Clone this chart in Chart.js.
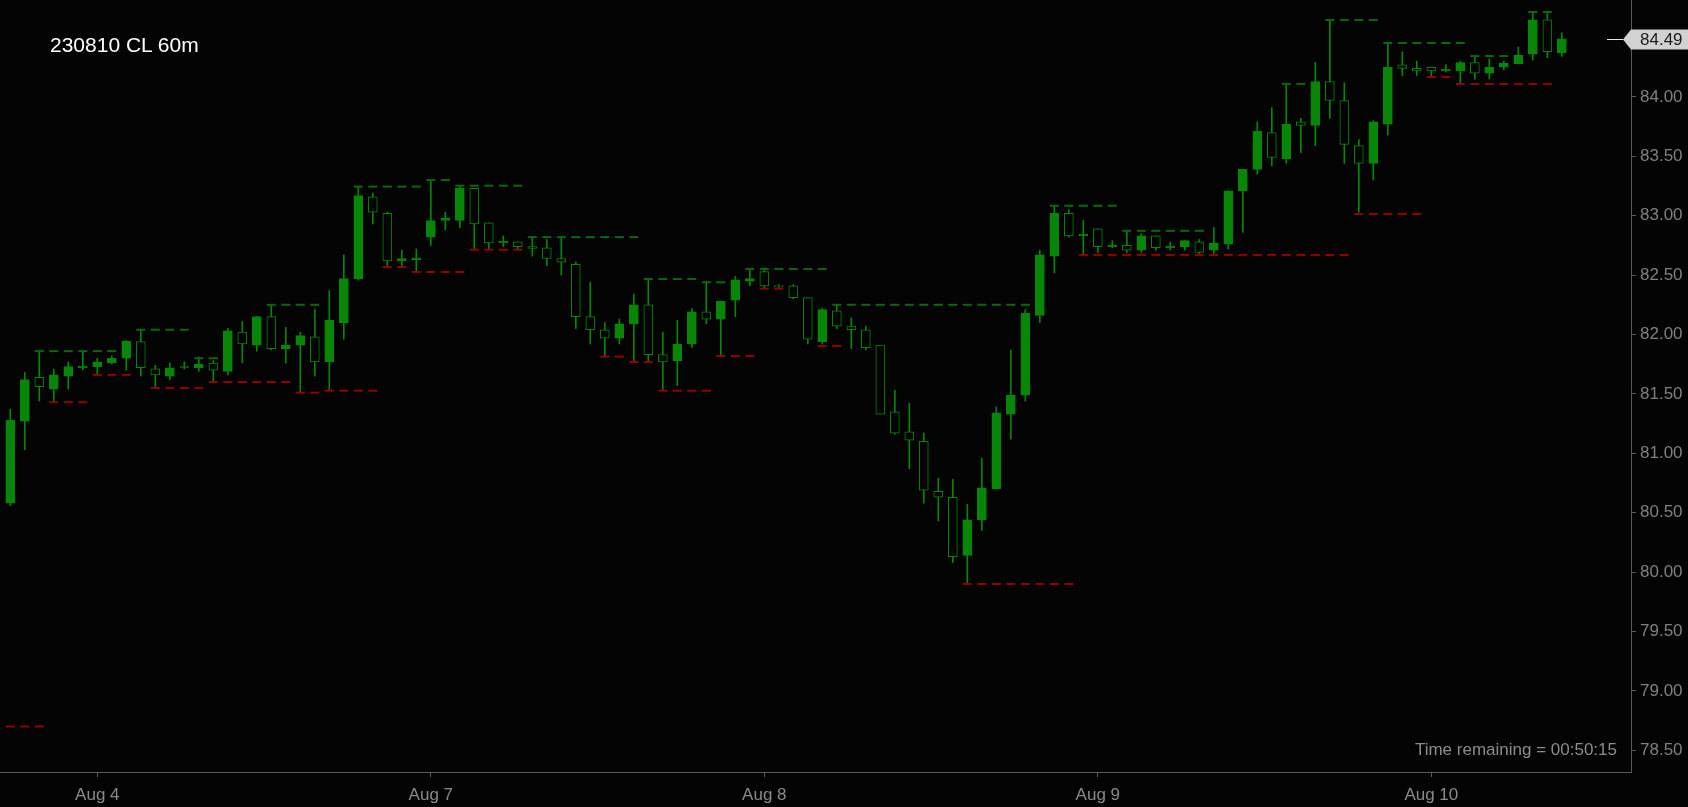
<!DOCTYPE html>
<html>
<head>
<meta charset="utf-8">
<title>230810 CL 60m</title>
<script src="https://cdn.jsdelivr.net/npm/chart.js@4.4.1/dist/chart.umd.min.js"></script>
<style>
  html, body { margin: 0; padding: 0; background: #040404; }
  #wrap { position: relative; width: 1688px; height: 807px; }
  canvas { display: block; }
  .title { position: absolute; left: 50px; top: 34px; color: #ffffff; font: 21px/21px Arial, "Liberation Sans", sans-serif; }
  .remain { position: absolute; right: 71px; top: 741px; color: #8c8c8c; font: 17px/17px Arial, "Liberation Sans", sans-serif; }
</style>
</head>
<body>
<div id="wrap">
  <canvas id="candleChart" width="1688" height="807"></canvas>
  <div class="title">230810 CL 60m</div>
  <div class="remain">Time remaining = 00:50:15</div>
</div>
<script>
// Hourly bars, index 0 = first bar on the chart
const opens = [
  80.58, 81.27, 81.64, 81.54, 81.65, 81.72, 81.73, 81.76, 81.80, 81.94, 81.71, 81.65,
  81.722, 81.72, 81.76, 81.69, 82.02, 81.91, 82.15, 81.88, 81.91, 81.98, 81.77, 82.10,
  82.47, 83.16, 83.02, 82.62, 82.63, 82.82, 82.96, 82.96, 83.23, 82.94, 82.77, 82.78,
  82.74, 82.73, 82.64, 82.59, 82.15, 82.04, 81.97, 82.09, 82.25, 81.83, 81.78, 81.92,
  82.19, 82.13, 82.29, 82.45, 82.53, 82.41, 82.41, 82.31, 81.94, 82.20, 82.07, 82.04,
  81.91, 81.35, 81.18, 81.10, 80.68, 80.63, 80.14, 80.44, 80.70, 81.33, 81.49, 82.16,
  82.66, 83.02, 82.83, 82.89, 82.74, 82.75, 82.71, 82.83, 82.73, 82.74, 82.78, 82.71,
  82.76, 83.21, 83.39, 83.70, 83.48, 83.79, 83.76, 84.13, 83.97, 83.59, 83.44, 83.77,
  84.27, 84.24, 84.25, 84.22, 84.22, 84.29, 84.20, 84.25, 84.28, 84.36, 84.65, 84.37
];
const highs = [
  81.37, 81.68, 81.86, 81.71, 81.77, 81.86, 81.80, 81.82, 81.95, 82.04, 81.74, 81.76,
  81.77, 81.81, 81.78, 82.05, 82.11, 82.15, 82.25, 82.06, 82.02, 82.21, 82.37, 82.67,
  83.24, 83.19, 83.03, 82.71, 82.72, 83.30, 83.03, 83.25, 83.23, 82.94, 82.83, 82.78,
  82.82, 82.80, 82.82, 82.61, 82.44, 82.10, 82.13, 82.34, 82.47, 82.02, 82.12, 82.22,
  82.44, 82.28, 82.49, 82.54, 82.55, 82.42, 82.42, 82.31, 82.22, 82.25, 82.14, 82.07,
  81.91, 81.53, 81.42, 81.17, 80.79, 80.78, 80.57, 80.96, 81.39, 81.87, 82.21, 82.71,
  83.08, 83.05, 82.96, 82.89, 82.79, 82.87, 82.85, 82.83, 82.78, 82.79, 82.80, 82.90,
  83.21, 83.39, 83.79, 83.91, 84.11, 83.82, 84.29, 84.65, 84.12, 83.64, 83.80, 84.45,
  84.38, 84.30, 84.25, 84.27, 84.30, 84.34, 84.32, 84.30, 84.42, 84.72, 84.72, 84.54
];
const lows = [
  80.56, 81.03, 81.44, 81.43, 81.54, 81.70, 81.67, 81.75, 81.70, 81.65, 81.55, 81.62,
  81.71, 81.69, 81.61, 81.66, 81.76, 81.86, 81.87, 81.76, 81.51, 81.65, 81.53, 81.96,
  82.46, 82.93, 82.57, 82.58, 82.53, 82.75, 82.88, 82.90, 82.72, 82.72, 82.74, 82.72,
  82.66, 82.58, 82.50, 82.05, 81.92, 81.82, 81.92, 81.77, 81.77, 81.53, 81.57, 81.89,
  82.09, 81.82, 82.15, 82.41, 82.39, 82.39, 82.30, 81.92, 81.92, 82.05, 81.88, 81.87,
  81.33, 81.16, 80.87, 80.58, 80.43, 80.08, 79.91, 80.35, 80.70, 81.12, 81.44, 82.10,
  82.52, 82.82, 82.68, 82.69, 82.73, 82.69, 82.69, 82.71, 82.71, 82.71, 82.68, 82.68,
  82.72, 82.86, 83.35, 83.42, 83.44, 83.53, 83.59, 83.82, 83.44, 83.03, 83.30, 83.68,
  84.18, 84.18, 84.17, 84.21, 84.12, 84.15, 84.15, 84.23, 84.28, 84.31, 84.33, 84.34
];
const closes = [
  81.28, 81.62, 81.56, 81.66, 81.73, 81.734, 81.77, 81.80, 81.945, 81.72, 81.66, 81.72,
  81.724, 81.75, 81.70, 82.03, 81.92, 82.15, 81.88, 81.91, 81.99, 81.77, 82.12, 82.47,
  83.17, 83.03, 82.62, 82.64, 82.645, 82.96, 82.98, 83.23, 82.93, 82.77, 82.785, 82.74,
  82.725, 82.64, 82.61, 82.15, 82.04, 81.97, 82.09, 82.25, 81.83, 81.77, 81.92, 82.19,
  82.13, 82.28, 82.46, 82.47, 82.41, 82.403, 82.31, 81.96, 82.21, 82.07, 82.04, 81.89,
  81.33, 81.17, 81.11, 80.69, 80.63, 80.13, 80.44, 80.71, 81.34, 81.49, 82.18, 82.67,
  83.02, 82.83, 82.845, 82.74, 82.75, 82.71, 82.83, 82.73, 82.745, 82.79, 82.69, 82.77,
  83.21, 83.39, 83.71, 83.49, 83.77, 83.76, 84.13, 83.97, 83.60, 83.44, 83.79, 84.25,
  84.24, 84.22, 84.22, 84.232, 84.29, 84.20, 84.25, 84.285, 84.35, 84.65, 84.38, 84.49
];

// Level markers (green = high level, red = low level), null = no mark on that bar
const highLevels = [
  null, null, 81.86, 81.86, 81.86, 81.86, 81.86, 81.86, null, 82.04, 82.04, 82.04,
  82.04, 81.80, 81.80, null, null, null, 82.25, 82.25, 82.25, 82.25, null, null,
  83.245, 83.245, 83.245, 83.245, 83.245, 83.30, 83.30, 83.253, 83.253, 83.253, 83.253, 83.253,
  82.82, 82.82, 82.82, 82.82, 82.82, 82.82, 82.82, 82.82, 82.467, 82.467, 82.467, 82.467,
  82.44, 82.44, null, 82.552, 82.552, 82.552, 82.552, 82.552, 82.552, 82.25, 82.25, 82.25,
  82.25, 82.25, 82.25, 82.25, 82.25, 82.25, 82.25, 82.25, 82.25, 82.25, 82.25, null,
  83.084, 83.084, 83.084, 83.084, 83.084, 82.873, 82.873, 82.873, 82.873, 82.873, 82.873, null,
  null, null, null, null, 84.11, 84.11, null, 84.648, 84.648, 84.648, 84.648, 84.454,
  84.454, 84.454, 84.454, 84.454, 84.454, 84.344, 84.344, 84.344, null, 84.715, 84.715, null
];
const lowLevels = [
  78.70, 78.70, 78.70, 81.43, 81.43, 81.43, 81.66, 81.66, 81.66, null, 81.55, 81.55,
  81.55, 81.55, 81.60, 81.60, 81.60, 81.60, 81.60, 81.60, 81.51, 81.51, 81.527, 81.527,
  81.527, 81.527, 82.568, 82.568, 82.526, 82.526, 82.526, 82.526, 82.714, 82.714, 82.714, 82.714,
  null, null, null, null, null, 81.814, 81.814, 81.769, 81.769, 81.527, 81.527, 81.527,
  81.527, 81.819, 81.819, 81.819, 82.386, 82.386, null, null, 81.903, 81.903, null, null,
  null, null, null, null, null, null, 79.90, 79.90, 79.90, 79.90, 79.90, 79.90,
  79.90, 79.90, 82.67, 82.67, 82.67, 82.67, 82.67, 82.67, 82.67, 82.67, 82.67, 82.67,
  82.67, 82.67, 82.67, 82.67, 82.67, 82.67, 82.67, 82.67, 82.67, 83.015, 83.015, 83.015,
  83.015, 83.015, 84.168, 84.168, 84.109, 84.109, 84.109, 84.109, 84.109, 84.109, 84.109, null
];

// Axis ticks
const dayTicks = [6, 29, 52, 75, 98];
const dayLabels = ['Aug 4', 'Aug 7', 'Aug 8', 'Aug 9', 'Aug 10'];
const priceTicks = [78.5, 79.0, 79.5, 80.0, 80.5, 81.0, 81.5, 82.0, 82.5, 83.0, 83.5, 84.0];

const BG = '#040404';
const CANDLE = '#078607';
const LEVEL_UP = '#0a6a0a';
const LEVEL_DN = '#940000';
const AXIS = '#5a5a5a';
const FONT = { family: 'Arial, "Liberation Sans", sans-serif', size: 17 };

const wickData = lows.map((l, i) => ({ x: i, y: [l, highs[i]] }));
const bodyData = opens.map((o, i) => ({ x: i, y: [o, closes[i]] }));
const bodyFill = opens.map((o, i) => closes[i] >= o ? CANDLE : BG);
const highData = highLevels.map((v, i) => ({ x: i, y: v }));
const lowData = lowLevels.map((v, i) => ({ x: i, y: v }));

// Last price tag on the right axis
const priceTag = {
    id: 'priceTag',
    afterDraw(chart) {
        const { ctx, chartArea, scales } = chart;
        const last = closes[closes.length - 1];
        const py = Math.round(scales.y.getPixelForValue(last)) + 0.5;
        const r = chartArea.right;
        ctx.save();
        ctx.strokeStyle = '#e6e6e6';
        ctx.lineWidth = 1;
        ctx.beginPath();
        ctx.moveTo(r - 24, py);
        ctx.lineTo(r - 8, py);
        ctx.stroke();
        ctx.fillStyle = '#d2d2d2';
        ctx.beginPath();
        ctx.moveTo(r - 8, py);
        ctx.lineTo(r, py - 10);
        ctx.lineTo(chart.width, py - 10);
        ctx.lineTo(chart.width, py + 10);
        ctx.lineTo(r, py + 10);
        ctx.closePath();
        ctx.fill();
        ctx.fillStyle = '#1c1c1c';
        ctx.font = '17px Arial, "Liberation Sans", sans-serif';
        ctx.textAlign = 'left';
        ctx.textBaseline = 'middle';
        ctx.fillText(last.toFixed(2), r + 9, py + 1);
        ctx.restore();
    }
};

const ctx = document.getElementById('candleChart').getContext('2d');
const candleChart = new Chart(ctx, {
    type: 'bar',
    data: {
        datasets: [
            {
                type: 'line', data: highData, showLine: false, order: 0,
                pointStyle: 'line', pointRadius: 4.5, pointHoverRadius: 4.5,
                pointBorderWidth: 2, pointBorderColor: LEVEL_UP, borderColor: LEVEL_UP
            },
            {
                type: 'line', data: lowData, showLine: false, order: 1,
                pointStyle: 'line', pointRadius: 4.5, pointHoverRadius: 4.5,
                pointBorderWidth: 2, pointBorderColor: LEVEL_DN, borderColor: LEVEL_DN
            },
            {
                type: 'bar', data: bodyData, order: 2, grouped: false,
                barThickness: 9, minBarLength: 1,
                backgroundColor: bodyFill, borderColor: CANDLE, borderWidth: 1, borderSkipped: false
            },
            {
                type: 'bar', data: wickData, order: 3, grouped: false,
                barThickness: 1, backgroundColor: CANDLE, borderWidth: 0
            }
        ]
    },
    options: {
        responsive: false,
        animation: false,
        events: [],
        layout: { padding: 0, autoPadding: false },
        plugins: {
            legend: { display: false },
            tooltip: { enabled: false }
        },
        scales: {
            x: {
                type: 'linear',
                min: -0.71,
                max: 111.77,
                offset: false,
                grid: { display: true, offset: false, drawOnChartArea: false, drawTicks: true, tickLength: 5, color: AXIS },
                border: { display: true, color: AXIS, width: 1 },
                ticks: {
                    autoSkip: false, maxRotation: 0, padding: 8, color: '#8a8a8a', font: FONT,
                    callback: (v) => dayLabels[dayTicks.indexOf(v)] || ''
                },
                afterBuildTicks: (s) => { s.ticks = dayTicks.map(v => ({ value: v })); },
                afterFit: (s) => { s.height = 35; s.paddingLeft = 0; s.paddingRight = 0; }
            },
            y: {
                position: 'right',
                min: 78.317,
                max: 84.816,
                grid: { display: true, drawOnChartArea: false, drawTicks: true, tickLength: 5, color: AXIS },
                border: { display: true, color: AXIS, width: 1 },
                ticks: {
                    padding: 4, color: '#808080', font: FONT,
                    callback: (v) => Number(v).toFixed(2)
                },
                afterBuildTicks: (s) => { s.ticks = priceTicks.map(v => ({ value: v })); },
                afterFit: (s) => { s.width = 57; s.paddingTop = 0; s.paddingBottom = 0; }
            }
        }
    },
    plugins: [priceTag]
});
</script>
</body>
</html>
